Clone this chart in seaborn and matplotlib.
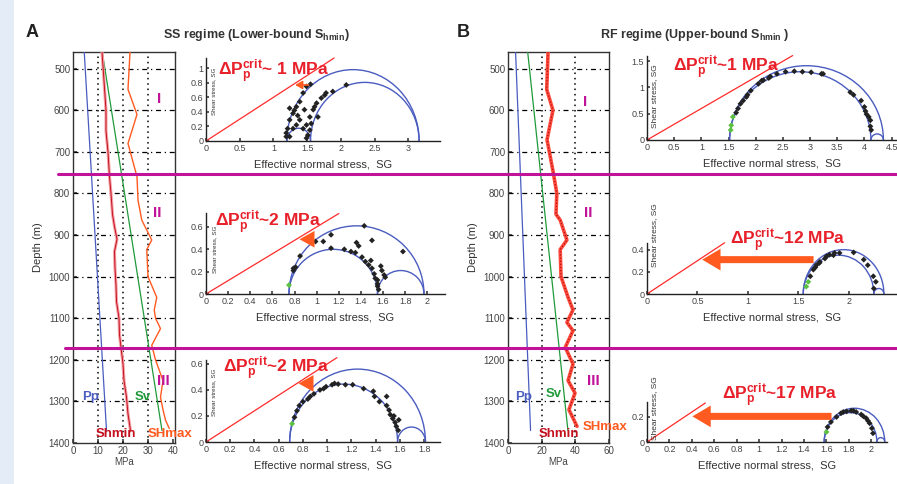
import matplotlib
matplotlib.use("Agg")
import matplotlib.pyplot as plt
import seaborn as sns
import numpy as np
import pandas as pd
from matplotlib.patches import Arc, Rectangle
from matplotlib.lines import Line2D

# ---------------- DATA ----------------
# depth profiles (depth m, stress MPa)
pp_depth = [460, 1370]
pp_mpa = [4.5, 13.4]
sv_depth = [460, 1370]
sv_mpa = [11.7, 35.6]

shmin_A_depth = [460, 520, 600, 650, 700, 760, 800, 850, 880, 910, 940, 980, 1020,
                 1060, 1100, 1140, 1170, 1210, 1250, 1290, 1330, 1370]
shmin_A_mpa = [11.6, 12.3, 13.2, 13.2, 14.0, 14.6, 15.2, 15.8, 16.6, 17.6, 16.6, 16.8, 17.2,
               17.4, 18.4, 18.6, 19.2, 20.0, 20.4, 21.4, 22.0, 23.0]
shmax_A_depth = [460, 550, 610, 680, 760, 816, 864, 912, 935, 1000, 1050, 1080, 1100,
                 1125, 1165, 1200, 1250, 1290, 1320, 1345, 1365]
shmax_A_mpa = [22.8, 22.0, 25.6, 22.0, 25.6, 26.0, 27.5, 31.5, 29.5, 30.0, 33.5, 32.5, 33.0,
               35.0, 31.5, 33.0, 36.0, 35.0, 36.0, 37.0, 38.5]
sh_B_depth = [460, 550, 600, 671, 750, 800, 850, 864, 912, 935, 1000, 1050, 1080, 1110,
              1130, 1170, 1210, 1250, 1280, 1320, 1360]
sh_B_mpa = [23.8, 23.0, 26.7, 23.2, 26.9, 29.0, 28.5, 31.0, 35.0, 31.0, 31.5, 35.7, 38.6, 35.0,
            38.6, 34.0, 38.6, 35.7, 39.8, 36.2, 41.0]

depth_ticks = [500, 600, 700, 800, 900, 1000, 1100, 1200, 1300, 1400]
mpa_ticks_A = [0, 10, 20, 30, 40]
mpa_ticks_B = [0, 20, 40, 60]

# Mohr insets: principal effective stresses (SG)
mohr_s3 = {"AI": 1.20, "AII": 0.75, "AIII": 0.69, "BI": 1.52, "BII": 1.55, "BIII": 1.58}
mohr_s2 = {"AI": 1.55, "AII": 1.55, "AIII": 1.58, "BI": 4.12, "BII": 2.25, "BIII": 2.05}
mohr_s1 = {"AI": 3.16, "AII": 1.97, "AIII": 1.81, "BI": 4.35, "BII": 2.35, "BIII": 2.12}
friction = 0.6
fail_end = {"AI": 1.9, "AII": 1.2, "AIII": 1.08, "BI": 2.68, "BII": 0.77, "BIII": 0.52}
dp_text = {"AI": "~ 1 MPa", "AII": "~2 MPa", "AIII": "~2 MPa",
           "BI": "~1 MPa", "BII": "~12 MPa", "BIII": "~17 MPa"}

pts_AI_x = [1.55, 1.49, 1.44, 1.39, 1.34, 1.29, 1.24, 1.21, 1.19, 1.46, 1.54, 1.56, 1.54, 1.51,
            1.39, 1.34, 1.29, 1.44, 1.49, 1.59, 1.64, 1.71, 1.76, 1.78, 1.88, 2.08, 1.61, 1.66,
            1.24, 1.31, 1.36, 1.19, 1.24, 1.49]
pts_AI_y = [0.78, 0.75, 0.66, 0.54, 0.47, 0.38, 0.29, 0.17, 0.11, 0.43, 0.33, 0.24, 0.15, 0.08,
            0.29, 0.22, 0.17, 0.17, 0.22, 0.43, 0.52, 0.59, 0.63, 0.66, 0.68, 0.77, 0.47, 0.33,
            0.45, 0.42, 0.35, 0.06, 0.06, 0.04]
pts_AII_x = [1.43, 1.50, 1.13, 1.06, 0.99, 1.13, 1.25, 1.31, 1.35, 1.36, 1.38, 1.41, 1.44, 1.47,
             1.50, 1.52, 1.53, 1.55, 1.55, 1.56, 1.58, 1.59, 1.61, 1.62, 1.78, 0.85, 0.81, 0.79,
             0.79, 1.55, 1.49]
pts_AII_y = [0.61, 0.48, 0.53, 0.47, 0.47, 0.41, 0.40, 0.38, 0.37, 0.46, 0.43, 0.33, 0.29, 0.26,
             0.23, 0.18, 0.14, 0.09, 0.07, 0.04, 0.25, 0.21, 0.17, 0.15, 0.38, 0.34, 0.24, 0.23,
             0.21, 0.125, 0.30]
pts_AIII_x = [0.73, 0.75, 0.77, 0.80, 0.84, 0.89, 0.94, 0.99, 1.04, 1.09, 1.15, 1.21, 1.30, 1.38,
              1.39, 1.43, 1.49, 1.49, 1.51, 1.52, 1.54, 1.56, 1.57, 1.585, 1.59, 1.55, 0.86,
              0.97, 1.06]
pts_AIII_y = [0.19, 0.24, 0.28, 0.31, 0.33, 0.37, 0.40, 0.425, 0.44, 0.445, 0.44, 0.44, 0.41, 0.39,
              0.35, 0.31, 0.35, 0.28, 0.245, 0.21, 0.18, 0.15, 0.12, 0.09, 0.17, 0.20, 0.35,
              0.41, 0.45]
pts_BI_x = [1.64, 1.675, 1.72, 1.77, 1.85, 1.91, 2.05, 2.14, 2.24, 2.39, 2.55, 2.71, 2.86, 3.02,
            3.21, 3.24, 3.74, 3.80, 3.94, 4.00, 4.02, 4.04, 4.08, 4.11, 4.125, 4.11, 1.83, 2.11,
            2.27]
pts_BI_y = [0.52, 0.60, 0.69, 0.75, 0.86, 0.94, 1.07, 1.14, 1.18, 1.26, 1.30, 1.31, 1.30, 1.29,
            1.26, 1.26, 0.91, 0.86, 0.75, 0.63, 0.55, 0.49, 0.44, 0.375, 0.19, 0.26, 0.82, 1.13,
            1.21]
pts_BII_x = [1.62, 1.65, 1.68, 1.715, 1.765, 1.81, 1.86, 1.91, 1.78, 1.85, 2.05, 2.15, 2.19,
             2.245, 2.27, 2.25, 1.67, 1.71]
pts_BII_y = [0.16, 0.22, 0.26, 0.29, 0.32, 0.355, 0.37, 0.37, 0.34, 0.35, 0.375, 0.31, 0.26,
             0.16, 0.11, 0.05, 0.24, 0.28]
pts_BIII_x = [1.61, 1.64, 1.69, 1.73, 1.78, 1.82, 1.865, 1.91, 1.955, 1.985, 2.005, 2.015, 1.75,
              1.84, 1.93, 1.97]
pts_BIII_y = [0.12, 0.16, 0.20, 0.23, 0.245, 0.25, 0.24, 0.22, 0.19, 0.15, 0.11, 0.07, 0.24,
              0.25, 0.205, 0.17]
green_x = {"AI": [], "AII": [0.75], "AIII": [0.71], "BI": [1.58, 1.55, 1.54],
           "BII": [1.58, 1.60], "BIII": [1.60]}
green_y = {"AI": [], "AII": [0.08], "AIII": [0.14], "BI": [0.44, 0.28, 0.19],
           "BII": [0.067, 0.11], "BIII": [0.08]}
pts_x = {"AI": pts_AI_x, "AII": pts_AII_x, "AIII": pts_AIII_x,
         "BI": pts_BI_x, "BII": pts_BII_x, "BIII": pts_BIII_x}
pts_y = {"AI": pts_AI_y, "AII": pts_AII_y, "AIII": pts_AIII_y,
         "BI": pts_BI_y, "BII": pts_BII_y, "BIII": pts_BIII_y}

# ---------------- STYLE ----------------
sns.set_theme(style="ticks")
plt.rcParams["font.family"] = ["Liberation Sans", "DejaVu Sans"]
plt.rcParams["mathtext.fontset"] = "custom"
plt.rcParams["mathtext.rm"] = "Liberation Sans"
plt.rcParams["mathtext.bf"] = "Liberation Sans:bold"
plt.rcParams["mathtext.it"] = "Liberation Sans:italic"

W, H = 897, 484
fig = plt.figure(figsize=(W / 100, H / 100), dpi=100)
fig.patch.set_facecolor("white")

C_BLUE = "#4a5cc0"
C_GREEN = "#1f9a3a"
C_RED = "#e8202a"
C_DRED = "#c4101e"
C_ORANGE = "#ff5a1f"
C_MAG = "#c0139a"
C_TXT = "#444444"

# pale margin
fig.patches.append(Rectangle((0, 0), 14 / W, 1, transform=fig.transFigure,
                             facecolor="#e4ecf8", edgecolor="none", zorder=0))


def add_ax(l, r, t, b):
    return fig.add_axes([l / W, 1 - b / H, (r - l) / W, (b - t) / H])


def line(ax, xs, ys, **kw):
    sns.lineplot(x=xs, y=ys, sort=False, estimator=None, errorbar=None, ax=ax, **kw)


# ---------------- DEPTH PANELS ----------------
def depth_panel(l, r, xmax, xticks, vgrid, shmin_d, shmin_v, shmax_d, shmax_v, panel):
    ax = add_ax(l, r, 52, 443)
    for d in depth_ticks[:-1]:
        ax.axhline(d, color="black", lw=0.9, ls=(0, (4, 3, 1, 3)), zorder=1)
    for v in vgrid:
        ax.axvline(v, color="black", lw=1.1, ls=(0, (1, 2.5)), zorder=1)
    line(ax, pp_mpa, pp_depth, color=C_BLUE, lw=0.9, zorder=3)
    line(ax, sv_mpa, sv_depth, color=C_GREEN, lw=0.9, zorder=3)
    if panel == "A":
        line(ax, shmin_v, shmin_d, color="#f4a0a6", lw=2.2, zorder=3)
        line(ax, shmin_v, shmin_d, color=C_DRED, lw=0.7, zorder=3)
        line(ax, shmax_v, shmax_d, color=C_ORANGE, lw=1.0, zorder=3)
    else:
        line(ax, shmax_v, shmax_d, color="#ff4a3a", lw=2.6, zorder=3)
        ax.plot(shmin_v, shmin_d, color="#b0101a", lw=0.9, ls=(0, (1, 1.5)), zorder=4)
    ax.set_xlim(0, xmax)
    ax.set_ylim(1400, 460)
    ax.set_xticks(xticks)
    ax.set_yticks(depth_ticks)
    ax.tick_params(direction="in", length=3, labelsize=7, colors=C_TXT, pad=2)
    for s in ax.spines.values():
        s.set_color("#333333")
        s.set_linewidth(1.0)
    ax.set_xlabel("MPa", fontsize=7, color=C_TXT, labelpad=1)
    ax.set_ylabel("Depth (m)", fontsize=8, color="#333333", labelpad=4)
    return ax


axA = depth_panel(73, 175, 40.8, mpa_ticks_A, [10, 20, 30],
                  shmin_A_depth, shmin_A_mpa, shmax_A_depth, shmax_A_mpa, "A")
axB = depth_panel(508, 609, 60, mpa_ticks_B, [20, 40],
                  sh_B_depth, sh_B_mpa, sh_B_depth, sh_B_mpa, "B")

lab = dict(fontsize=9.5, fontweight="bold")
axA.text(7, 1290, "Pp", color=C_BLUE, ha="center", va="center", **lab)
axA.text(28, 1290, "Sv", color=C_GREEN, ha="center", va="center", **lab)
axA.text(17, 1378, "Shmin", color=C_DRED, ha="center", va="center", **lab)
axA.text(39, 1378, "SHmax", color=C_ORANGE, ha="center", va="center", clip_on=False, **lab)
axB.text(9, 1290, "Pp", color=C_BLUE, ha="center", va="center", **lab)
axB.text(27, 1282, "Sv", color=C_GREEN, ha="center", va="center", **lab)
axB.text(30, 1378, "Shmin", color=C_DRED, ha="center", va="center", **lab)
axB.text(57.5, 1362, "SHmax", color=C_ORANGE, ha="center", va="center", clip_on=False, **lab)

rom = dict(color=C_MAG, fontsize=11, fontweight="bold", ha="center", va="center")
axA.text(34.5, 572, "I", **rom)
axA.text(33.5, 848, "II", **rom)
axA.text(36, 1250, "III", **rom)
axB.text(46, 580, "I", **rom)
axB.text(47.5, 848, "II", **rom)
axB.text(51, 1250, "III", **rom)

# ---------------- MOHR INSETS ----------------
inset_geom = {
    "AI": (206, 440, 58, 141, 3.47, 1.14, [0, 0.5, 1, 1.5, 2, 2.5, 3], [0, 0.2, 0.4, 0.6, 0.8, 1]),
    "AII": (206, 445, 213, 294, 2.16, 0.725, [0, 0.2, 0.4, 0.6, 0.8, 1, 1.2, 1.4, 1.6, 1.8, 2],
            [0, 0.2, 0.4, 0.6]),
    "AIII": (206, 440, 360, 442, 1.93, 0.63, [0, 0.2, 0.4, 0.6, 0.8, 1, 1.2, 1.4, 1.6, 1.8],
             [0, 0.2, 0.4, 0.6]),
    "BI": (647, 897, 56, 140, 4.6, 1.6, [0, 0.5, 1, 1.5, 2, 2.5, 3, 3.5, 4, 4.5], [0, 0.5, 1, 1.5]),
    "BII": (647, 897, 243, 294, 2.48, 0.46, [0, 0.5, 1, 1.5, 2], [0, 0.2, 0.4]),
    "BIII": (647, 887, 402, 442, 2.14, 0.32, [0, 0.2, 0.4, 0.6, 0.8, 1, 1.2, 1.4, 1.6, 1.8, 2],
             [0, 0.2]),
}
text_pos = {"AI": (0.18, 0.90), "AII": (0.08, 0.60), "AIII": (0.14, 0.53),
            "BI": (0.48, 1.29), "BII": (0.82, 0.445), "BIII": (0.67, 0.34)}
arrows = {"AI": ((1.56, 0.77), (1.28, 0.77), "small"),
          "AII": ((0.97, 0.49), (0.82, 0.49), "mid"),
          "AIII": ((0.90, 0.45), (0.74, 0.45), "mid"),
          "BII": ((1.68, 0.31), (0.52, 0.31), "big"),
          "BIII": ((1.67, 0.205), (0.38, 0.205), "big")}
ylab_pos = {"AI": (0.035, 0.60, 4.5), "AII": (0.035, 0.55, 4.5), "AIII": (0.035, 0.60, 4.5),
            "BI": (0.03, 0.52, 6), "BII": (0.03, 1.15, 6), "BIII": (0.03, 0.85, 6)}

for key, (l, r, t, b, xm, ym, xt, yt) in inset_geom.items():
    ax = add_ax(l, r, t, b)
    ax.patch.set_alpha(0)
    s3, s2, s1 = mohr_s3[key], mohr_s2[key], mohr_s1[key]
    for a, c in [(s3, s1), (s3, s2), (s2, s1)]:
        ax.add_patch(Arc(((a + c) / 2, 0), c - a, c - a, theta1=0, theta2=180,
                         color=C_BLUE, lw=1.0, zorder=2))
    xe = fail_end[key]
    ax.plot([0, xe], [0, friction * xe], color="#ff2a2a", lw=0.9, zorder=2, clip_on=False)
    sns.scatterplot(x=pts_x[key], y=pts_y[key], marker="D", s=9, color="#222222",
                    edgecolor="none", ax=ax, zorder=4)
    if green_x[key]:
        sns.scatterplot(x=green_x[key], y=green_y[key], marker="D", s=9, color="#5cc040",
                        edgecolor="none", ax=ax, zorder=5)
    if key in arrows:
        (x0, y0), (x1, y1), kind = arrows[key]
        if kind == "small":
            ap = dict(arrowstyle="-|>,head_length=0.35,head_width=0.2", color=C_ORANGE, lw=1.2)
        elif kind == "mid":
            ap = dict(arrowstyle="simple,head_length=0.9,head_width=1.0,tail_width=0.3",
                      color=C_ORANGE, mutation_scale=12, lw=0)
        else:
            ap = dict(arrowstyle="simple,head_length=1.1,head_width=1.3,tail_width=0.42",
                      color=C_ORANGE, mutation_scale=12, lw=0)
        ax.annotate("", xy=(x1, y1), xytext=(x0, y0), arrowprops=ap, zorder=6)
    tx, ty = text_pos[key]
    ax.text(tx, ty, r"$\mathbf{\Delta P_p^{crit}}$" + dp_text[key], color=C_RED,
            fontsize=12.5, fontweight="bold", ha="left", va="baseline", zorder=7,
            clip_on=False)
    lx, ly, lf = ylab_pos[key]
    ax.text(lx, ly, "Shear stress, SG", transform=ax.transAxes, rotation=90, fontsize=lf,
            color="#333333", ha="center", va="center")
    ax.set_xlim(0, xm)
    ax.set_ylim(0, ym)
    sns.despine(ax=ax)
    ax.set_xticks(xt)
    ax.set_yticks(yt)
    ax.set_xticklabels([("%g" % v) for v in xt])
    ax.set_yticklabels([("%g" % v) for v in yt])
    ax.tick_params(direction="in", length=2.5, labelsize=6.5, colors=C_TXT, pad=2)
    for s in ["left", "bottom"]:
        ax.spines[s].set_color("#222222")
        ax.spines[s].set_linewidth(1.0)
    ax.set_xlabel("Effective normal stress,  SG", fontsize=8, color="#333333", labelpad=5)

# ---------------- FIGURE TEXT ----------------
fig.text(26 / W, 1 - 33 / H, "A", fontsize=13, fontweight="bold", va="center", color="#222")
fig.text(457 / W, 1 - 33 / H, "B", fontsize=13, fontweight="bold", va="center", color="#222")
fig.text(256 / W, 1 - 35 / H, r"SS regime (Lower-bound S$_{\mathbf{hmin}}$)", fontsize=9,
         fontweight="bold", ha="center", va="center", color="#333")
fig.text(695 / W, 1 - 35 / H, r"RF regime (Upper-bound S$_{\mathbf{hmin}}$ )", fontsize=9,
         fontweight="bold", ha="center", va="center", color="#333")

# magenta separators
for y, x0 in [(174, 58), (348, 65)]:
    fig.add_artist(Line2D([x0 / W, 1], [1 - y / H, 1 - y / H], color=C_MAG, lw=2.2,
                          transform=fig.transFigure, zorder=10))

fig.savefig("out.png", dpi=100)
